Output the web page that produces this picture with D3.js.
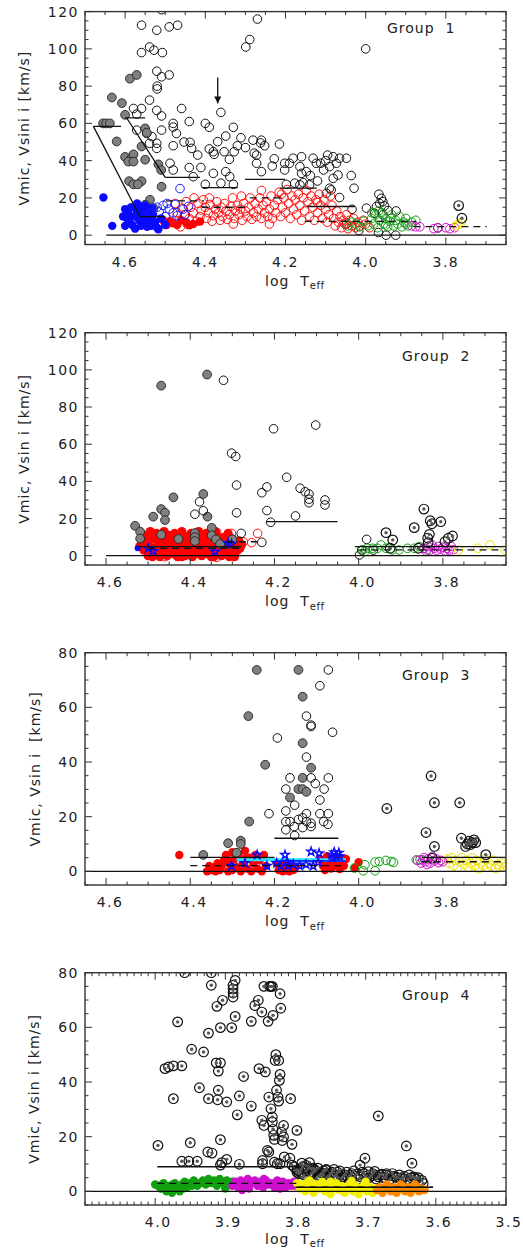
<!DOCTYPE html>
<html>
<head>
<meta charset="utf-8">
<script src="https://cdn.jsdelivr.net/npm/d3@7"></script>
<style>
  body { margin: 0; background: #fff; }
  svg { display: block; }
  text { font-family: "DejaVu Sans", sans-serif; fill: #222; }
</style>
</head>
<body>
<svg id="chart" width="523" height="1250"></svg>
<script>
'use strict';

// ---------- Group 1 ----------
var g1Open = [[4.509,121],[4.559,112.7],[4.521,110],[4.49,111.8],[4.469,112.7],[4.539,101],[4.528,99.3],[4.559,98],[4.507,98],[4.521,88],[4.509,85],[4.49,86],[4.52,80],[4.52,78.5],[4.539,72.5],[4.459,68],[4.579,68],[4.559,68],[4.521,67],[4.509,64],[4.571,65],[4.48,60],[4.48,58],[4.44,61],[4.472,54.6],[4.571,56.4],[4.546,54.6],[4.533,52.9],[4.509,56.4],[4.539,49.3],[4.521,49.3],[4.521,46.6],[4.48,48],[4.453,50],[4.438,49.8],[4.434,46.6],[4.419,43],[4.4,60],[4.39,57.9],[4.369,50.2],[4.361,65.9],[4.349,53.2],[4.39,46.3],[4.38,44.8],[4.378,43.4],[4.353,44.8],[4.34,40.7],[4.328,44.8],[4.32,48],[4.33,57.9],[4.311,52.3],[4.3,47],[4.281,51],[4.26,51],[4.262,49.5],[4.278,44],[4.272,43],[4.252,48],[4.215,48.9],[4.488,38.6],[4.48,35],[4.44,36.3],[4.411,36.3],[4.43,31.4],[4.4,27.3],[4.38,33.2],[4.361,27.9],[4.349,34.1],[4.339,31.4],[4.33,27.3],[4.272,38.6],[4.26,34.1],[4.233,37.1],[4.202,38.6],[4.202,35],[4.198,27.3],[4.181,41.3],[4.19,38.6],[4.16,42.1],[4.164,36.8],[4.16,33.2],[4.177,27.9],[4.164,27],[4.156,28.2],[4.148,34.1],[4.131,41.3],[4.123,38.6],[4.12,29.1],[4.095,43],[4.081,42.1],[4.073,38.6],[4.09,36.8],[4.069,32.3],[4.081,30.5],[4.048,41.3],[4.065,41.3],[4.09,25.2],[4.086,24.3],[4.098,22.5],[4.065,20.2],[4.036,32],[4.029,25.2],[4.034,13.9],[4.017,2.5],[4.0,100],[4.299,101],[4.289,105],[4.27,116],[3.998,14.5],[3.967,22],[3.961,19.8],[3.957,18],[3.965,17],[3.973,15.4],[3.953,15.7],[3.978,11.8],[3.944,13.2],[3.924,13],[3.968,1.4],[3.949,0],[3.925,0],[3.957,11],[4.048,6],[4.105,35],[4.1,40],[4.112,38.6],[4.14,27],[4.228,41],[4.138,32],[3.82,3.9]];
var g1Gray = [[4.655,60],[4.647,60],[4.638,60],[4.633,73.9],[4.608,70.9],[4.588,84],[4.571,86],[4.6,64.6],[4.621,50.3],[4.55,57.3],[4.546,55],[4.6,42],[4.583,42],[4.579,43.4],[4.592,39.5],[4.579,39.5],[4.55,40.5],[4.559,47.6],[4.59,29],[4.559,29],[4.579,27.3],[4.568,27.3],[4.517,38],[4.51,35],[4.509,26],[4.538,19],[4.55,16.3],[4.529,14.5],[4.538,12.3]];
var g1BlueFilled = [[4.654,20.2],[4.632,5],[4.6,14],[4.592,12],[4.585,15],[4.578,10],[4.57,13],[4.565,8],[4.56,14.5],[4.555,11],[4.55,7],[4.545,13],[4.54,9],[4.535,5],[4.53,11],[4.525,7],[4.52,4],[4.517,3.2],[4.59,7],[4.6,5],[4.582,5.5],[4.575,3.5],[4.56,5],[4.545,4.5],[4.605,10],[4.57,17],[4.55,16],[4.532,14.5],[4.51,9],[4.5,5.5],[4.56,9.5],[4.595,9]];
var g1BlueOpen = [[4.463,25],[4.52,15],[4.505,16],[4.49,14],[4.48,12],[4.5,10],[4.475,16.5],[4.515,12.5],[4.495,17],[4.47,10.5],[4.535,12],[4.455,14],[4.442,15.5],[4.45,11]];
var g1RedFilled = [[4.496,5.5],[4.48,6.4],[4.447,6.8],[4.413,7.3],[4.488,7.5],[4.47,5.5],[4.46,8],[4.43,6],[4.505,8],[4.44,5.3]];
var g1RedOpen = [[4.475,17],[4.47,12],[4.465,8],[4.462,4.5],[4.458,14.5],[4.452,11],[4.448,18],[4.445,6],[4.44,9],[4.436,15],[4.43,12],[4.428,20],[4.422,7.5],[4.418,17],[4.413,10],[4.41,13.5],[4.405,19],[4.4,15],[4.397,9],[4.392,12],[4.388,16.5],[4.383,7.5],[4.38,10.5],[4.375,14],[4.371,18],[4.367,12],[4.363,8],[4.36,15],[4.357,10],[4.352,17],[4.348,13],[4.345,8.5],[4.34,11],[4.336,15.5],[4.332,20],[4.328,9],[4.325,13],[4.32,16],[4.316,11],[4.312,14],[4.308,8],[4.304,17],[4.3,13],[4.296,10],[4.292,15],[4.288,20],[4.284,8.5],[4.28,12],[4.276,17],[4.272,10],[4.268,14],[4.264,20],[4.26,9],[4.256,16],[4.252,12],[4.248,18],[4.244,10],[4.24,14],[4.236,21],[4.232,9],[4.228,16],[4.224,12],[4.22,19],[4.216,23],[4.212,10],[4.208,15],[4.204,20],[4.2,12],[4.196,24.5],[4.192,17],[4.188,9],[4.184,21],[4.18,14],[4.176,19],[4.172,11],[4.168,22],[4.164,16],[4.16,8],[4.156,20],[4.152,13],[4.148,24],[4.144,18],[4.14,10],[4.136,21],[4.132,15],[4.128,8],[4.124,19],[4.12,12],[4.116,22],[4.112,16],[4.108,9],[4.104,19],[4.1,14],[4.096,7],[4.092,11],[4.088,21],[4.084,16],[4.08,9],[4.076,5],[4.072,13],[4.068,7],[4.064,10],[4.06,4],[4.056,8],[4.052,6],[4.048,11],[4.044,3.5],[4.04,8],[4.035,5],[4.03,9],[4.025,4],[4.02,7],[4.014,5],[4.006,8],[4.0,6],[3.99,4],[4.12,17.5],[4.26,24],[4.21,22],[4.24,6],[4.33,6],[4.39,20],[4.31,21]];
var g1GreenOpen = [[4.045,5],[4.035,7],[4.025,6],[4.015,4.5],[4.005,7.5],[3.995,5],[3.985,9],[3.98,6],[3.975,11],[3.97,4],[3.965,8],[3.96,12],[3.955,6],[3.95,9],[3.945,4.5],[3.94,7.5],[3.935,11],[3.93,5],[3.925,8],[3.92,6],[3.915,10],[3.91,4.5],[3.905,7],[3.9,9],[3.895,5],[3.885,7],[3.875,8],[3.968,13],[3.985,12],[3.95,5.5],[3.938,9],[3.9,6]];
var g1MagentaOpen = [[3.885,5],[3.875,4.5],[3.865,4.5],[3.83,3.5],[3.82,4],[3.8,4],[3.79,3.5],[3.778,4]];
var g1YellowOpen = [[3.775,5],[3.768,6],[3.762,6.5]];
var g1Dotted = [[3.768,15.9],[3.76,9.1]];
var g1Solid = [[4.679,4.61,58.4],[4.6,4.55,63],[4.563,4.5,10],[4.5,4.413,31],[4.409,4.319,25.5],[4.301,4.201,30],[4.214,4.122,25.3],[4.147,4.027,15.4],[4.647,3.65,0]];
var g1Dashed = [[4.498,4.403,18.4],[4.409,4.297,15],[4.289,4.2,20],[4.152,3.874,7.4],[3.881,3.698,4.6]];
var g1Poly = [[[4.679,58.4],[4.563,10]],[[4.596,62.9],[4.5,31]]];
var g1Arrow = [4.369, 84.6, 70.7];

// ---------- Group 2 ----------
var g2Gray = [[4.469,91.5],[4.36,97.5],[4.531,16.1],[4.519,12.9],[4.519,9.2],[4.488,21],[4.469,25.1],[4.46,23.1],[4.46,19.2],[4.44,31.4],[4.469,11.3],[4.428,9],[4.369,33.2],[4.359,21],[4.389,12.2],[4.389,10],[4.389,7.9],[4.349,15],[4.349,11],[4.339,8.8],[4.329,6.3],[4.3,8.8]];
var g2Open = [[4.321,94.4],[4.202,68.3],[4.102,70.3],[4.302,55.2],[4.292,53.4],[4.29,38],[4.29,23.1],[4.218,37],[4.23,33.9],[4.171,42.2],[4.139,36.3],[4.127,34.4],[4.118,33.2],[4.118,30.4],[4.118,28.5],[4.08,30],[4.08,27.3],[4.218,24.3],[4.15,21.4],[4.209,18],[4.279,12],[4.23,7.2],[4.378,29],[4.369,24.2],[4.389,22.3],[3.981,8.8],[3.998,0.4],[3.993,3],[3.965,3]];
var g2RedFilled = [[4.515,8],[4.51,3],[4.505,11],[4.5,6],[4.5,0],[4.495,13],[4.49,4],[4.488,9],[4.483,1],[4.48,12],[4.476,6],[4.472,-0.5],[4.47,10],[4.466,3],[4.462,13],[4.458,7],[4.455,0],[4.452,11],[4.448,4],[4.445,8],[4.44,1],[4.437,12],[4.433,5],[4.43,-0.5],[4.427,9],[4.423,3],[4.42,13],[4.416,6],[4.412,0],[4.409,10],[4.405,3],[4.402,7],[4.398,12],[4.395,-0.5],[4.39,5],[4.387,9],[4.383,2],[4.38,13],[4.376,7],[4.373,0],[4.37,10],[4.366,4],[4.362,12],[4.358,1],[4.355,7],[4.351,10],[4.348,3],[4.344,-0.5],[4.34,6],[4.337,11],[4.333,2],[4.33,8],[4.326,0],[4.322,5],[4.318,10],[4.315,2],[4.311,7],[4.307,-0.5],[4.304,4],[4.3,9],[4.296,1],[4.292,6],[4.288,3],[4.285,8],[4.282,4],[4.278,6],[4.5,10],[4.46,1.5],[4.42,-0.5],[4.38,3],[4.34,13],[4.31,12],[4.49,-0.5],[4.45,5],[4.41,2],[4.37,6],[4.33,4],[4.295,-0.5],[4.47,7],[4.43,11],[4.39,1],[4.35,-0.5],[4.32,2],[4.52,5],[4.36,9],[4.4,4.5],[4.44,3],[4.48,2]];
var g2RedOpen = [[4.302,12],[4.24,12],[4.254,7],[4.337,-0.9],[4.337,12.5],[4.274,7.5],[4.46,-0.5]];
var g2BlueFilled = [[4.525,4]];
var g2BlueStar = [[4.341,2.2],[4.302,6.3],[4.488,2.5],[4.5,4],[4.31,6.8]];
var g2GreenOpen = [[3.99,3.1],[3.979,4],[3.967,4],[3.955,4],[3.947,5.8],[3.92,3.1],[3.904,3.1],[3.884,4],[3.868,4],[3.856,4.9],[3.845,4],[3.837,3.1],[3.935,4],[3.985,2.2]];
var g2MagentaOpen = [[3.845,4],[3.84,2.5],[3.835,5],[3.83,3],[3.826,6],[3.82,4],[3.815,2.8],[3.81,5],[3.805,3.5],[3.8,4.5],[3.795,2.6],[3.79,4],[3.785,3],[3.78,5],[3.775,3.2]];
var g2YellowOpen = [[3.763,3],[3.717,4],[3.688,5.8],[3.652,3]];
var g2Dotted = [[3.845,25.1],[3.83,18.8],[3.826,17.2],[3.805,18.3],[3.868,15.1],[3.935,12.4],[3.919,8.5],[3.832,11.5],[3.836,9.5],[3.787,9.4],[3.777,10.6],[3.795,7.5],[3.835,7],[3.858,4],[3.925,4]];
var g2Solid = [[4.524,4.279,4.85],[4.218,4.05,18.3],[4.6,3.65,0],[4.009,3.65,4.85]];
var g2Dashed = [[4.5,4.278,4],[4.313,4.23,7.5],[3.998,3.65,3.1]];

// ---------- Group 3 ----------
var g3Gray = [[4.242,73.7],[4.143,73.7],[4.133,63.9],[4.262,56.8],[4.133,46.9],[4.222,39],[4.113,37.9],[4.133,34.2],[4.143,30.1],[4.133,30.1],[4.124,29.1],[4.163,27],[4.26,18.2],[4.31,10.3],[4.28,11.2],[4.28,10],[4.29,6.8],[4.369,6]];
var g3Open = [[4.072,73.7],[4.092,67.9],[4.124,56.8],[4.113,53],[4.113,53.5],[4.062,50.9],[4.193,48.8],[4.124,41.8],[4.163,34.2],[4.113,34.2],[4.072,34.2],[4.103,32.1],[4.173,30.1],[4.082,30.1],[4.092,26.1],[4.173,22.1],[4.152,24.2],[4.213,21.1],[4.124,21.1],[4.092,21.1],[4.072,21.1],[4.143,19],[4.133,19.6],[4.124,18.2],[4.173,18.2],[4.163,18.2],[4.083,18.2],[4.073,17.2],[4.153,16.4],[4.173,15.2],[4.133,16],[4.113,17.6],[4.113,16.4],[4.152,13.1]];
var g3Dotted = [[3.933,23],[3.828,34.9],[3.82,25.1],[3.76,25.1],[3.84,14.2],[3.82,9.1],[3.756,12.1],[3.746,9.1],[3.738,11],[3.73,10.5],[3.726,11.5],[3.742,10],[3.734,9.8],[3.722,10.5],[3.698,6.1],[3.825,4.8]];
var g3GreenOpen = [[4.01,1.2],[3.989,0.2],[3.985,2.4],[3.961,0.2],[3.961,3.4],[3.951,3.6],[3.935,4],[3.923,3.6],[3.917,3.3],[3.863,4.2],[3.854,4.2]];
var g3MagentaOpen = [[3.86,4],[3.852,3],[3.845,5],[3.84,3.5],[3.835,4.5],[3.83,3],[3.825,5.5],[3.82,3.8],[3.815,4.5],[3.81,3.2],[3.805,4],[3.8,3.5],[3.848,4.2],[3.838,2.5]];
var g3YellowOpen = [[3.79,4.5],[3.785,3],[3.78,5],[3.775,2],[3.77,4],[3.765,1.5],[3.76,3.5],[3.755,5],[3.75,2.5],[3.745,4],[3.74,1.5],[3.735,3],[3.73,5],[3.725,2],[3.72,4],[3.715,1],[3.71,3],[3.705,2],[3.7,4.5],[3.695,1.5],[3.69,3],[3.685,2],[3.68,4],[3.675,1],[3.67,2.5],[3.665,1.5],[3.66,3],[3.655,1.5],[3.65,2]];
var g3RedFilled = [[4.426,6],[4.36,0],[4.355,2],[4.35,0.5],[4.345,1.5],[4.34,0],[4.335,3],[4.33,0.5],[4.325,2],[4.32,4],[4.315,6],[4.31,0],[4.305,2.5],[4.3,7],[4.3,0.5],[4.295,4.5],[4.29,1.5],[4.285,6],[4.28,0],[4.275,3],[4.27,7.5],[4.265,1],[4.26,5],[4.255,0],[4.25,3],[4.245,6],[4.24,1],[4.235,4],[4.23,0],[4.225,6],[4.22,2],[4.195,3],[4.19,0.5],[4.185,2],[4.18,0],[4.175,3],[4.17,1],[4.165,0],[4.16,2],[4.155,0.5],[4.15,1.5],[4.092,4.5],[4.085,2],[4.08,0.5],[4.075,5.5],[4.07,3],[4.065,1],[4.06,4],[4.055,2],[4.05,5],[4.045,0.8],[4.04,3],[4.035,2],[4.03,4.5],[4.0,3.3],[4.009,1.3],[4.31,4],[4.27,4.5]];
var g3BlueStar = [[4.241,6],[4.175,6],[4.113,7.2],[4.094,6.6],[4.064,6],[4.058,7],[4.052,5.5],[4.047,6.8],[4.062,5],[4.045,5.5],[4.302,2],[4.218,2],[4.195,3],[4.185,2],[4.168,2],[4.155,2.5],[4.14,2],[4.125,2.5],[4.108,2],[4.096,3.3],[4.27,3],[4.17,3.5]];
var g3Solid = [[4.4,4.2,5.1],[4.2,4.048,12.1],[3.85,3.65,5.1],[4.65,3.65,0]];
var g3Dashed = [[4.4,4.03,2.1],[3.85,3.65,3.5]];
var g3Cyan = [[4.29,4.03,4.2]];
var g3BlueBar = [[4.2,4.03,3.8]];

// ---------- Group 4 ----------
var g4Dotted = [[3.996,16.8],[3.986,44.9],[3.981,45.5],[3.974,45.9],[3.962,45.9],[3.974,33.9],[3.968,62],[3.958,80],[3.948,52],[3.931,51],[3.937,37.9],[3.962,11],[3.952,11],[3.94,11],[3.95,17.8],[3.924,33.9],[3.924,57.9],[3.925,14.4],[3.919,14],[3.92,80],[3.92,75.4],[3.912,67.7],[3.913,47],[3.907,47],[3.91,44],[3.91,37],[3.911,33.5],[3.904,69.9],[3.907,59.9],[3.907,18.9],[3.907,9.6],[3.898,11.7],[3.905,10.5],[3.898,32.7],[3.891,59.9],[3.889,71.1],[3.889,72.6],[3.889,74.1],[3.889,75.4],[3.886,77.2],[3.886,64],[3.883,28],[3.88,34.9],[3.88,9.9],[3.874,42],[3.863,31.2],[3.863,62.2],[3.858,68],[3.853,69.9],[3.852,44.9],[3.845,75],[3.843,43.7],[3.848,65.6],[3.848,26],[3.845,24.1],[3.847,11.3],[3.847,10.1],[3.84,15],[3.838,14.4],[3.839,62.2],[3.837,75],[3.835,75],[3.833,75],[3.838,34.5],[3.835,30.2],[3.833,27.2],[3.833,25.4],[3.832,22.7],[3.832,64.4],[3.83,10.7],[3.826,10.1],[3.828,50],[3.829,47.9],[3.824,47.9],[3.83,19],[3.831,20.5],[3.827,37],[3.825,34.5],[3.824,33],[3.822,72.3],[3.822,42.8],[3.823,40.6],[3.821,67],[3.82,21.7],[3.817,19.9],[3.819,18.6],[3.817,24.1],[3.816,12.6],[3.822,10.1],[3.807,33.9],[3.805,17.2],[3.798,22.3],[3.802,8.9],[3.797,7.7],[3.793,7],[3.808,12.1],[3.805,9.6],[3.682,27.6],[3.701,12.1],[3.708,9.6],[3.696,7.2],[3.642,16.6],[3.634,10.3],[3.63,5.1],[3.618,2.9],[3.791,10.3],[3.798,7.8],[3.778,8.4],[3.772,7.8],[3.671,6],[3.795,6.5],[3.79,5],[3.785,7.5],[3.78,5.5],[3.775,7],[3.77,4.5],[3.765,6],[3.76,7.5],[3.755,5],[3.75,6.5],[3.745,5.5],[3.74,7],[3.735,4.5],[3.73,6],[3.725,5],[3.72,6.5],[3.715,5.5],[3.71,4.5],[3.705,7],[3.7,5.5],[3.695,5],[3.69,6.5],[3.685,4.5],[3.68,6],[3.675,5],[3.67,6.5],[3.665,4.5],[3.66,5.5],[3.655,5],[3.65,4.5],[3.645,5.5],[3.64,4.5],[3.635,5],[3.628,4.5],[3.62,4],[3.76,6],[3.74,5],[3.72,5],[3.7,4.5],[3.745,8],[3.727,7],[3.785,9.5],[3.775,8.5],[3.798,7],[3.792,8],[3.788,6],[3.782,8.5],[3.777,6.5],[3.772,7.5],[3.767,5.5],[3.762,6.7],[3.757,7.8],[3.752,5.7],[3.748,7],[3.742,6],[3.737,7.5],[3.732,5.3],[3.722,5.8],[3.717,7.5],[3.712,6.3],[3.707,5.3],[3.702,6.5],[3.692,5.7],[3.687,7.3],[3.682,5.3],[3.677,6.3],[3.672,5],[3.662,6.5],[3.657,5.3],[3.652,6],[3.647,4.7],[3.638,6],[3.632,5.3],[3.625,5],[3.79,9],[3.78,10.5],[3.768,8.5],[3.756,8]];
var g4Green = [[4.0,2.5],[3.996,2],[3.992,1],[3.988,3],[3.984,0],[3.98,2],[3.976,-0.5],[3.972,3],[3.968,1],[3.965,0],[3.962,2.5],[3.958,3.5],[3.955,1.5],[3.951,3],[3.948,2],[3.944,3.5],[3.94,2],[3.936,3],[3.932,4],[3.928,2.5],[3.924,4.5],[3.92,3],[3.916,4],[3.912,2],[3.908,4.5],[3.904,3],[3.9,1],[3.898,4],[3.894,2.5],[3.89,3.5],[3.96,1],[3.93,3],[3.91,3.5],[3.975,2.5],[3.99,2.5],[3.945,4]];
var g4Magenta = [[3.89,2],[3.886,3.5],[3.882,1.5],[3.878,4],[3.874,2.5],[3.87,3.5],[3.866,1],[3.862,3],[3.858,4],[3.854,2],[3.85,3.5],[3.846,1.5],[3.842,4],[3.838,2.5],[3.834,3],[3.83,1.5],[3.826,4],[3.822,2.5],[3.818,3.5],[3.814,1.5],[3.81,3],[3.806,2],[3.802,3.5],[3.876,0.5],[3.868,4.5],[3.845,4.5],[3.822,1],[3.8,2]];
var g4Yellow = [[3.798,3],[3.794,1],[3.79,2.5],[3.786,0],[3.782,3.5],[3.778,1.5],[3.774,-0.5],[3.77,2.5],[3.766,1],[3.762,3.5],[3.758,0],[3.754,2],[3.75,-1],[3.746,1.5],[3.742,3],[3.738,0.5],[3.734,2],[3.73,-0.5],[3.726,1.5],[3.722,3],[3.718,0],[3.714,2],[3.71,-1],[3.706,1],[3.702,2.5],[3.698,0],[3.694,1.5],[3.69,-0.5],[3.686,1],[3.78,4],[3.75,3.5],[3.72,3.8],[3.7,3.5]];
var g4Orange = [[3.684,0.5],[3.68,1.5],[3.676,-0.5],[3.672,1],[3.668,2],[3.664,0],[3.66,1.5],[3.656,-0.5],[3.652,1],[3.648,2],[3.644,0],[3.64,1.5],[3.636,-0.5],[3.632,1],[3.628,2],[3.624,0],[3.62,1],[3.616,0.5],[3.67,2.5],[3.65,2.5],[3.63,2.5]];
var g4Solid = [[3.997,3.797,9],[3.8,3.604,1.5],[4.1,3.5,0]];
var g4Dashed = [[3.997,3.797,2.9],[3.797,3.604,1.5]];

// axis tick values
var xMajorWide = [4.6, 4.4, 4.2, 4.0, 3.8];
var xMajorCool = [4.0, 3.9, 3.8, 3.7, 3.6, 3.5];
var yMajor120 = [0, 20, 40, 60, 80, 100, 120];
var yMajor80 = [0, 20, 40, 60, 80];

var svg = d3.select('#chart');

var panels = [
	{ id: 1, top: 11.6, bottom: 244.5, xDomain: [4.7, 3.65], yDomain: [-5, 120], xMajor: xMajorWide, xMinor: 0.05, yMajor: yMajor120,
	  labelShift: 0, titleDy: 41,
	  ylabel: 'Vmic, Vsini i [km/s]', ylabelX: 24, group: 'Group  1', groupX: 387, groupDy: 21.5,
	  series: [
		{ data: g1Open, kind: 'open', color: '#111' },
		{ data: g1Gray, kind: 'gray' },
		{ data: g1RedOpen, kind: 'open', color: '#ff1010' },
		{ data: g1RedFilled, kind: 'filled', color: '#ff0000' },
		{ data: g1BlueFilled, kind: 'filled', color: '#0a0aff' },
		{ data: g1BlueOpen, kind: 'open', color: '#1a1aff' },
		{ data: g1GreenOpen, kind: 'open', color: '#10a010' },
		{ data: g1MagentaOpen, kind: 'open', color: '#d010d0' },
		{ data: g1YellowOpen, kind: 'open', color: '#f0e000' },
		{ data: g1Dotted, kind: 'dotted' }
	  ], solid: g1Solid, dashed: g1Dashed, poly: g1Poly, arrow: g1Arrow },
	{ id: 2, top: 332.7, bottom: 565, xDomain: [4.65, 3.65], yDomain: [-5, 120], xMajor: xMajorWide, xMinor: 0.05, yMajor: yMajor120,
	  labelShift: 4, titleDy: 41,
	  ylabel: 'Vmic, Vsin i [km/s]', ylabelX: 24, group: 'Group  2', groupX: 402, groupDy: 28,
	  series: [
		{ data: g2RedFilled, kind: 'filled', color: '#ff0000', r: 4.6 },
		{ data: g2RedOpen, kind: 'open', color: '#ff1010' },
		{ data: g2Gray, kind: 'gray' },
		{ data: g2Open, kind: 'open', color: '#111' },
		{ data: g2BlueFilled, kind: 'filled', color: '#0a0aff', r: 3 },
		{ data: g2BlueStar, kind: 'star' },
		{ data: g2GreenOpen, kind: 'open', color: '#10a010' },
		{ data: g2MagentaOpen, kind: 'open', color: '#d010d0' },
		{ data: g2YellowOpen, kind: 'open', color: '#f0e000' },
		{ data: g2Dotted, kind: 'dotted' }
	  ], solid: g2Solid, dashed: g2Dashed },
	{ id: 3, top: 652.7, bottom: 885, xDomain: [4.65, 3.65], yDomain: [-5, 80], xMajor: xMajorWide, xMinor: 0.05, yMajor: yMajor80,
	  labelShift: 4, titleDy: 41,
	  ylabel: 'Vmic, Vsin i  [km/s]', ylabelX: 35, group: 'Group  3', groupX: 402, groupDy: 27,
	  series: [
		{ data: g3RedFilled, kind: 'filled', color: '#ff0000' },
		{ data: g3Gray, kind: 'gray' },
		{ data: g3Open, kind: 'open', color: '#111' },
		{ data: g3GreenOpen, kind: 'open', color: '#10a010' },
		{ data: g3YellowOpen, kind: 'open', color: '#f0e000' },
		{ data: g3MagentaOpen, kind: 'open', color: '#d010d0' },
		{ data: g3Dotted, kind: 'dotted' }
	  ], solid: g3Solid, dashed: g3Dashed, cyan: g3Cyan, blueBar: g3BlueBar, stars: g3BlueStar },
	{ id: 4, top: 972.7, bottom: 1205, xDomain: [4.1, 3.5], yDomain: [-5, 80], xMajor: xMajorCool, xMinor: 0.01, yMajor: yMajor80,
	  labelShift: 3, titleDy: 38.5,
	  ylabel: 'Vmic, Vsin i [km/s]', ylabelX: 34, group: 'Group  4', groupX: 402, groupDy: 27,
	  series: [
		{ data: g4Green, kind: 'filled', color: '#10a010' },
		{ data: g4Magenta, kind: 'filled', color: '#cc10cc' },
		{ data: g4Dotted, kind: 'dotted' },
		{ data: g4Yellow, kind: 'filled', color: '#f5f000' },
		{ data: g4Orange, kind: 'filled', color: '#ff8a00' }
	  ], solid: g4Solid, dashed: g4Dashed }
];

var left = 85, right = 506;

// arrow head marker
svg.append('defs').append('marker')
	.attr('id', 'arrowhead')
	.attr('viewBox', '0 0 10 10')
	.attr('refX', 10).attr('refY', 5)
	.attr('markerWidth', 7).attr('markerHeight', 7)
	.attr('markerUnits', 'userSpaceOnUse')
	.attr('orient', 'auto')
	.append('path').attr('d', 'M0,0 L10,5 L0,10 Z').attr('fill', '#111');

panels.forEach(drawPanel);

function minorRange(domain, step) {
	var lo = Math.min(domain[0], domain[1]), hi = Math.max(domain[0], domain[1]);
	return d3.range(Math.ceil(lo / step - 1e-6), Math.floor(hi / step + 1e-6) + 1)
		.map(function(i) { return +(i * step).toFixed(4); });
}

function drawPanel(p) {
	var x = d3.scaleLinear().domain(p.xDomain).range([left, right]);
	var y = d3.scaleLinear().domain(p.yDomain).range([p.bottom, p.top]);
	var g = svg.append('g');

	svg.select('defs').append('clipPath').attr('id', 'clip' + p.id)
		.append('rect')
			.attr('x', left).attr('y', p.top)
			.attr('width', right - left).attr('height', p.bottom - p.top);

	var plot = g.append('g').attr('clip-path', 'url(#clip' + p.id + ')');

	// points
	p.series.forEach(function(s) { drawSeries(plot, s, x, y); });

	if (p.cyan) {
		plot.selectAll(null).data(p.cyan).enter().append('line')
			.attr('x1', function(d) { return x(d[0]); }).attr('x2', function(d) { return x(d[1]); })
			.attr('y1', function(d) { return y(d[2]); }).attr('y2', function(d) { return y(d[2]); })
			.attr('stroke', '#22e8ff').attr('stroke-width', 3);
		plot.selectAll(null).data(p.blueBar).enter().append('line')
			.attr('x1', function(d) { return x(d[0]); }).attr('x2', function(d) { return x(d[1]); })
			.attr('y1', function(d) { return y(d[2]); }).attr('y2', function(d) { return y(d[2]); })
			.attr('stroke', '#1040ff').attr('stroke-width', 2);
	}
	if (p.stars) drawSeries(plot, { data: p.stars, kind: 'star' }, x, y);

	// reference lines
	var hline = function(sel, dash) {
		sel.attr('x1', function(d) { return x(d[0]); }).attr('x2', function(d) { return x(d[1]); })
			.attr('y1', function(d) { return y(d[2]); }).attr('y2', function(d) { return y(d[2]); })
			.attr('stroke', '#111').attr('stroke-width', 1.3)
			.attr('stroke-dasharray', dash);
	};
	plot.selectAll(null).data(p.solid).enter().append('line').call(hline, null);
	plot.selectAll(null).data(p.dashed).enter().append('line').call(hline, '7,5');

	if (p.poly) {
		var line = d3.line().x(function(d) { return x(d[0]); }).y(function(d) { return y(d[1]); });
		plot.selectAll(null).data(p.poly).enter().append('path')
			.attr('d', line).attr('fill', 'none').attr('stroke', '#111').attr('stroke-width', 1.3);
	}
	if (p.arrow) {
		plot.append('line')
			.attr('x1', x(p.arrow[0])).attr('x2', x(p.arrow[0]))
			.attr('y1', y(p.arrow[1])).attr('y2', y(p.arrow[2]))
			.attr('stroke', '#111').attr('stroke-width', 1.3)
			.attr('marker-end', 'url(#arrowhead)');
	}

	// frame
	g.append('rect')
		.attr('x', left).attr('y', p.top)
		.attr('width', right - left).attr('height', p.bottom - p.top)
		.attr('fill', 'none').attr('stroke', '#333').attr('stroke-width', 1.4);

	// ticks
	var ticks = g.append('g').attr('stroke', '#333').attr('stroke-width', 1);
	var xMinors = minorRange(p.xDomain, p.xMinor);
	var yMinors = minorRange(p.yDomain, 5);
	var isMajor = function(v, list) { return list.some(function(m) { return Math.abs(m - v) < 1e-6; }); };

	xMinors.forEach(function(v) {
		var len = isMajor(v, p.xMajor) ? 7 : 3.5;
		ticks.append('line').attr('x1', x(v)).attr('x2', x(v)).attr('y1', p.bottom).attr('y2', p.bottom - len);
		ticks.append('line').attr('x1', x(v)).attr('x2', x(v)).attr('y1', p.top).attr('y2', p.top + len);
	});
	yMinors.forEach(function(v) {
		var len = isMajor(v, p.yMajor) ? 7 : 3.5;
		ticks.append('line').attr('x1', left).attr('x2', left + len).attr('y1', y(v)).attr('y2', y(v));
		ticks.append('line').attr('x1', right).attr('x2', right - len).attr('y1', y(v)).attr('y2', y(v));
	});

	// tick labels
	var fmtX = d3.format('.1f');
	g.selectAll(null).data(p.xMajor).enter().append('text')
		.attr('x', function(d) { return x(d) + p.labelShift; })
		.attr('y', p.bottom + 22)
		.attr('text-anchor', 'middle')
		.style('font-size', '14px').style('letter-spacing', '1.5px')
		.text(function(d) { return fmtX(d); });
	g.selectAll(null).data(p.yMajor).enter().append('text')
		.attr('x', 79)
		.attr('y', function(d) { return y(d) + 5; })
		.attr('text-anchor', 'end')
		.style('font-size', '14px').style('letter-spacing', '1.5px')
		.text(function(d) { return d; });

	// axis titles
	var xt = g.append('text')
		.attr('x', 265).attr('y', p.bottom + p.titleDy)
		.style('font-size', '14px').style('letter-spacing', '1px')
		.style('white-space', 'pre')
		.text('log  T');
	xt.append('tspan').attr('dy', 3.5).style('font-size', '10px').style('letter-spacing', '0.5px').text('eff');

	g.append('text')
		.attr('transform', 'translate(' + p.ylabelX + ',' + ((p.top + p.bottom) / 2) + ') rotate(-90)')
		.attr('text-anchor', 'middle')
		.attr('dy', '0.35em')
		.style('font-size', '14px').style('letter-spacing', '1px')
		.style('white-space', 'pre')
		.text(p.ylabel);

	g.append('text')
		.attr('x', p.groupX).attr('y', p.top + p.groupDy)
		.style('font-size', '14px').style('letter-spacing', '1px')
		.style('white-space', 'pre')
		.text(p.group);
}

function drawSeries(plot, s, x, y) {
	var sel = plot.append('g').selectAll(null).data(s.data).enter();
	var cx = function(d) { return x(d[0]); };
	var cy = function(d) { return y(d[1]); };
	if (s.kind === 'open') {
		sel.append('circle').attr('cx', cx).attr('cy', cy).attr('r', s.r || 4.3)
			.attr('fill', 'none').attr('stroke', s.color).attr('stroke-width', 1);
	} else if (s.kind === 'filled') {
		sel.append('circle').attr('cx', cx).attr('cy', cy).attr('r', s.r || 4.2)
			.attr('fill', s.color);
	} else if (s.kind === 'gray') {
		sel.append('circle').attr('cx', cx).attr('cy', cy).attr('r', 4.4)
			.attr('fill', '#808080').attr('stroke', '#222').attr('stroke-width', 0.9);
	} else if (s.kind === 'dotted') {
		sel.append('circle').attr('cx', cx).attr('cy', cy).attr('r', 4.8)
			.attr('fill', 'none').attr('stroke', '#111').attr('stroke-width', 1.2);
		sel.append('circle').attr('cx', cx).attr('cy', cy).attr('r', 1.7)
			.attr('fill', '#555');
	} else if (s.kind === 'star') {
		var star = d3.symbol().type(d3.symbolStar).size(22);
		sel.append('path').attr('d', star)
			.attr('transform', function(d) { return 'translate(' + x(d[0]) + ',' + y(d[1]) + ')'; })
			.attr('fill', 'none').attr('stroke', '#0a0aff').attr('stroke-width', 1.4);
	}
}
</script>
</body>
</html>
